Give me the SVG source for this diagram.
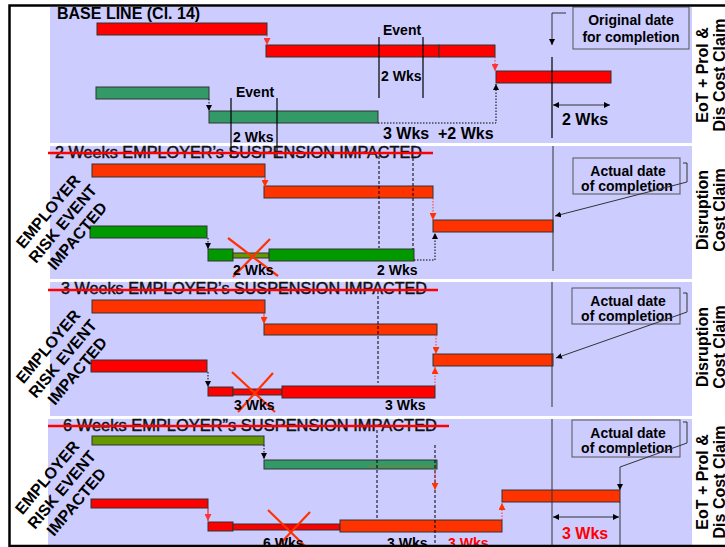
<svg xmlns="http://www.w3.org/2000/svg" width="725" height="547" viewBox="0 0 725 547">
<style>
.panel{fill:#CCCCFF}
.bar{stroke:#333;stroke-width:1}
.r{fill:#FF0000}.o{fill:#FF3300}.g{fill:#339966}.gg{fill:#009900}.ol{fill:#669900}
.t{font-family:"Liberation Sans",Arial,sans-serif;font-weight:bold;fill:#000}
.s14{font-size:14px}.s16{font-size:16px}
.title{font-family:"Liberation Sans",Arial,sans-serif;font-size:16px;fill:#111;stroke:#111;stroke-width:0.45}
.lab{font-family:"Liberation Sans",Arial,sans-serif;font-weight:bold;font-size:16px;fill:#000}
.strike{stroke:#FF0000;stroke-width:2.5}
.callout{fill:#CCCCFF;stroke:#555;stroke-width:1}
.ln{stroke:#000;stroke-width:1.2;fill:none}
.thin{stroke:#333;stroke-width:1;fill:none}
.dash{stroke:#000;stroke-width:1;stroke-dasharray:3 2;fill:none}
.dotk{stroke:#000;stroke-width:1;stroke-dasharray:1.5 1.5;fill:none}
.dotr{stroke:#FF3333;stroke-width:1;stroke-dasharray:1.5 1.5;fill:none}
.solo{stroke:#FF3300;stroke-width:1;fill:none}
.solr{stroke:#FF0000;stroke-width:1;fill:none}
.x{stroke:#FF3300;stroke-width:2.2}
</style>
<defs>
<marker id="ak" viewBox="0 0 10 10" refX="10" refY="5" markerWidth="6" markerHeight="6" orient="auto-start-reverse" markerUnits="userSpaceOnUse"><path d="M0,0 L10,5 L0,10 z" fill="#000"/></marker>
<marker id="ar" viewBox="0 0 10 10" refX="10" refY="5" markerWidth="7" markerHeight="7" orient="auto" markerUnits="userSpaceOnUse"><path d="M0,0 L10,5 L0,10 z" fill="#FF3333"/></marker>
<marker id="ao" viewBox="0 0 10 10" refX="10" refY="5" markerWidth="7" markerHeight="7" orient="auto" markerUnits="userSpaceOnUse"><path d="M0,0 L10,5 L0,10 z" fill="#FF3300"/></marker>
</defs>
<rect x="0" y="0" width="725" height="547" fill="#fff"/>

<!-- Panels -->
<g id="panels">
<rect class="panel" x="50" y="7" width="642" height="136"/>
<rect class="panel" x="50" y="146" width="642" height="133"/>
<rect class="panel" x="50" y="282" width="642" height="134"/>
<rect class="panel" x="48" y="419" width="644" height="127"/>
</g>

<!-- Panel 1: Base line -->
<g id="p1-title"><text class="t s16" x="57" y="19">BASE LINE (Cl. 14)</text></g>
<g id="p1-red1"><rect class="bar r" x="97" y="23" width="170" height="12"/></g>
<g id="p1-red2"><rect class="bar r" x="266" y="45" width="173" height="12"/><rect class="bar r" x="439" y="45" width="56" height="12"/></g>
<g id="p1-red3"><rect class="bar r" x="496" y="71" width="115" height="12"/></g>
<g id="p1-green1"><rect class="bar g" x="96" y="87" width="113" height="12"/></g>
<g id="p1-green2"><rect class="bar g" x="209" y="111" width="169" height="12"/></g>
<g id="p1-event-red">
<text class="t s14" x="383" y="35">Event</text>
<line class="ln" x1="379" y1="37" x2="379" y2="98"/><line class="ln" x1="423" y1="37" x2="423" y2="98"/>
<text class="t s14" x="381" y="81">2 Wks</text>
</g>
<g id="p1-event-green">
<text class="t s14" x="236" y="97">Event</text>
<line class="ln" x1="231" y1="98" x2="231" y2="158"/><line class="ln" x1="277" y1="98" x2="277" y2="158"/>
<text class="t s14" x="233" y="142">2 Wks</text>
</g>
<g id="p1-delay"><text class="t s16" x="383" y="139">3 Wks</text><text class="t s16" x="438" y="139">+2 Wks</text></g>
<g id="p1-original">
<rect class="callout" x="573" y="7" width="116" height="42"/>
<text class="t s14" x="631" y="25" text-anchor="middle">Original date</text>
<text class="t s14" x="631" y="42" text-anchor="middle">for completion</text>
</g>
<g id="p1-ext"><text class="t s16" x="562" y="125">2 Wks</text></g>
<g id="p1-claim" transform="translate(712,75) rotate(-90)">
<text class="t s16" x="0" y="-4" text-anchor="middle">EoT + Prol &amp;</text>
<text class="t s16" x="0" y="13" text-anchor="middle">Dis Cost Claim</text>
</g>

<!-- Panel 2 -->
<g id="p2-title"><text class="title" x="55" y="158" textLength="367" lengthAdjust="spacingAndGlyphs">2 Weeks EMPLOYER’s SUSPENSION IMPACTED</text><line class="strike" x1="48" y1="153" x2="433" y2="153"/></g>
<g id="p2-o1"><rect class="bar o" x="92" y="164" width="173" height="13"/></g>
<g id="p2-o2"><rect class="bar o" x="264" y="186" width="169" height="12"/></g>
<g id="p2-o3"><rect class="bar o" x="433" y="220" width="120" height="12"/></g>
<g id="p2-g1"><rect class="bar gg" x="90" y="226" width="117" height="12"/></g>
<g id="p2-g2"><rect class="bar gg" x="208" y="249" width="25" height="12"/><rect class="bar ol" x="233" y="253" width="36" height="5"/><rect class="bar gg" x="269" y="249" width="145" height="12"/>
<line class="x" x1="228" y1="238" x2="278" y2="276"/><line class="x" x1="270" y1="239" x2="233" y2="277"/>
<text class="t s14" x="233" y="275">2 Wks</text><text class="t s14" x="377" y="275">2 Wks</text></g>
<g id="p2-label" transform="translate(63,224) rotate(-50)">
<text class="lab" x="0" y="-14" text-anchor="middle">EMPLOYER</text>
<text class="lab" x="0" y="5" text-anchor="middle">RISK EVENT</text>
<text class="lab" x="0" y="24" text-anchor="middle">IMPACTED</text>
</g>
<g id="p2-actual">
<rect class="callout" x="573" y="158" width="107" height="36"/>
<text class="t s14" x="628" y="176" text-anchor="middle">Actual date</text>
<text class="t s14" x="627" y="191" text-anchor="middle">of completion</text>
</g>
<g id="p2-claim" transform="translate(712,210) rotate(-90)">
<text class="t s16" x="0" y="-4" text-anchor="middle">Disruption</text>
<text class="t s16" x="0" y="13" text-anchor="middle">Cost Claim</text>
</g>

<!-- Panel 3 -->
<g id="p3-title"><text class="title" x="61" y="294" textLength="366" lengthAdjust="spacingAndGlyphs">3 Weeks EMPLOYER’s SUSPENSION IMPACTED</text><line class="strike" x1="48" y1="290" x2="438" y2="290"/></g>
<g id="p3-o1"><rect class="bar o" x="92" y="300" width="173" height="13"/></g>
<g id="p3-o2"><rect class="bar o" x="264" y="324" width="173" height="11"/></g>
<g id="p3-o3"><rect class="bar o" x="433" y="354" width="120" height="12"/></g>
<g id="p3-r1"><rect class="bar r" x="91" y="360" width="116" height="12"/></g>
<g id="p3-r2"><rect class="bar r" x="208" y="387" width="25" height="9"/><rect class="bar r" x="233" y="389" width="49" height="6"/><rect class="bar r" x="282" y="386" width="153" height="12"/>
<line class="x" x1="232" y1="372" x2="275" y2="412"/><line class="x" x1="273" y1="373" x2="238" y2="412"/>
<text class="t s14" x="234" y="410">3 Wks</text><text class="t s14" x="385" y="410">3 Wks</text></g>
<g id="p3-label" transform="translate(63,359) rotate(-50)">
<text class="lab" x="0" y="-14" text-anchor="middle">EMPLOYER</text>
<text class="lab" x="0" y="5" text-anchor="middle">RISK EVENT</text>
<text class="lab" x="0" y="24" text-anchor="middle">IMPACTED</text>
</g>
<g id="p3-actual">
<rect class="callout" x="572" y="288" width="108" height="36"/>
<text class="t s14" x="628" y="306" text-anchor="middle">Actual date</text>
<text class="t s14" x="627" y="321" text-anchor="middle">of completion</text>
</g>
<g id="p3-claim" transform="translate(712,347) rotate(-90)">
<text class="t s16" x="0" y="-4" text-anchor="middle">Disruption</text>
<text class="t s16" x="0" y="13" text-anchor="middle">Cost Claim</text>
</g>

<!-- Panel 4 -->
<g id="p4-title"><text class="title" x="63" y="431" textLength="374" lengthAdjust="spacingAndGlyphs">6 Weeks EMPLOYER”s SUSPENSION IMPACTED</text><line class="strike" x1="48" y1="426" x2="449" y2="426"/></g>
<g id="p4-ol1"><rect class="bar ol" x="92" y="436" width="172" height="9"/></g>
<g id="p4-g2"><rect class="bar g" x="264" y="460" width="173" height="9"/><line x1="368" y1="466" x2="436" y2="466" stroke="#CC6600" stroke-width="1" stroke-dasharray="1.5 1.5"/></g>
<g id="p4-r1"><rect class="bar r" x="91" y="499" width="117" height="9"/></g>
<g id="p4-r2"><rect class="bar r" x="208" y="522" width="25" height="9"/><rect class="bar r" x="233" y="524" width="107" height="6"/><rect class="bar o" x="340" y="520" width="162" height="12"/>
<line class="x" x1="268" y1="510" x2="306" y2="547"/><line class="x" x1="310" y1="512" x2="277" y2="547"/>
<text class="t s14" x="263" y="548">6 Wks</text><text class="t s14" x="387" y="548">3 Wks</text><text class="t s14" x="448" y="548" style="fill:#FF0000">3 Wks</text></g>
<g id="p4-o3"><rect class="bar o" x="502" y="490" width="118" height="12"/></g>
<g id="p4-label" transform="translate(62,490) rotate(-50)">
<text class="lab" x="0" y="-14" text-anchor="middle">EMPLOYER</text>
<text class="lab" x="0" y="5" text-anchor="middle">RISK EVENT</text>
<text class="lab" x="0" y="24" text-anchor="middle">IMPACTED</text>
</g>
<g id="p4-actual">
<rect class="callout" x="572" y="420" width="108" height="37"/>
<text class="t s14" x="628" y="438" text-anchor="middle">Actual date</text>
<text class="t s14" x="627" y="453" text-anchor="middle">of completion</text>
</g>
<g id="p4-ext"><text class="t s16" x="562" y="539" style="fill:#FF0000">3 Wks</text></g>
<g id="p4-claim" transform="translate(712,482) rotate(-90)">
<text class="t s16" x="0" y="-4" text-anchor="middle">EoT + Prol &amp;</text>
<text class="t s16" x="0" y="13" text-anchor="middle">Dis Cost Claim</text>
</g>

<!-- Connectors -->
<g id="connectors">
<path class="dotr" d="M267,35 V45" marker-end="url(#ar)"/>
<path class="dotr" d="M495,57 V71" marker-end="url(#ar)"/>
<path class="dotk" d="M209,99 V111" marker-end="url(#ak)"/>
<path class="dotk" d="M378,123 H496 V84" marker-end="url(#ak)"/>
<line class="ln" x1="552" y1="57" x2="552" y2="138"/>
<path class="thin" d="M566,13 H552 V45" marker-end="url(#ak)"/>
<path class="thin" d="M553,105 H610" marker-start="url(#ak)" marker-end="url(#ak)"/>
<path class="solo" d="M265,177 V187" marker-end="url(#ao)"/>
<path class="dotr" d="M433,198 V220" marker-end="url(#ao)"/>
<path class="dotk" d="M208,238 V249" marker-end="url(#ak)"/>
<path class="dotk" d="M414,260 H435 V233" marker-end="url(#ak)"/>
<line class="dash" x1="379" y1="156" x2="379" y2="248"/>
<line class="dash" x1="413" y1="158" x2="413" y2="249"/>
<line class="thin" x1="553" y1="146" x2="553" y2="271"/>
<path class="thin" d="M683,163 H687 V182 L555,216" marker-end="url(#ak)"/>
<path class="solo" d="M264,313 V324" marker-end="url(#ao)"/>
<path class="dotr" d="M436,335 V354" marker-end="url(#ao)"/>
<path class="dotk" d="M208,372 V387" marker-end="url(#ak)"/>
<path class="dotr" d="M435,386 V367" marker-end="url(#ao)"/>
<line class="dash" x1="378" y1="291" x2="378" y2="383"/>
<line class="thin" x1="552" y1="282" x2="552" y2="407"/>
<path class="thin" d="M683,293 H687 V312 L556,358" marker-end="url(#ak)"/>
<path class="dotk" d="M264,445 V459" marker-end="url(#ak)"/>
<path class="solr" d="M208,508 V521" marker-end="url(#ar)"/>
<path class="dotr" d="M502,520 V503" marker-end="url(#ao)"/>
<line class="dash" x1="377" y1="430" x2="377" y2="518"/>
<line class="dash" x1="435" y1="445" x2="435" y2="547"/>
<path class="dotr" d="M435,470 V490" marker-end="url(#ao)"/>
<line class="thin" x1="552" y1="419" x2="552" y2="546"/>
<line class="thin" x1="620" y1="502" x2="620" y2="546"/>
<path class="thin" d="M553,517 H619" marker-start="url(#ak)" marker-end="url(#ak)"/>
<path class="thin" d="M683,422 H687 V443 L620,467 V490" marker-end="url(#ak)"/>
</g>

<rect x="9.5" y="5.5" width="730" height="540.5" fill="none" stroke="#000" stroke-width="2.5"/>
</svg>
